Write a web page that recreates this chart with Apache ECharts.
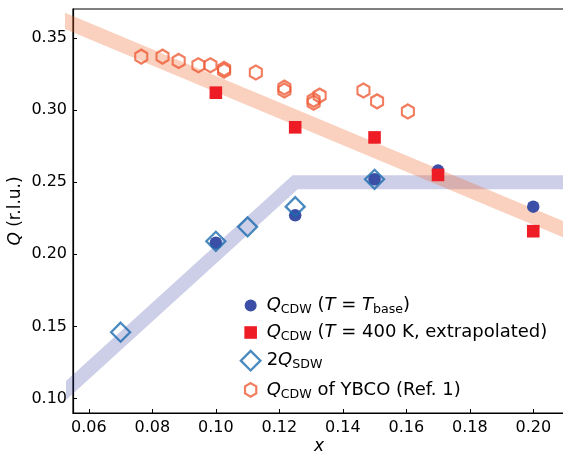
<!DOCTYPE html>
<html>
<head>
<meta charset="utf-8">
<script src="https://cdn.jsdelivr.net/npm/echarts@6/dist/echarts.min.js"></script>
<style>
  html, body { margin: 0; padding: 0; background: #fff; }
  #chart { width: 563px; height: 454px; }
</style>
</head>
<body>
<div id="chart"></div>
<script>
// Q_CDW at T = T_base (filled circles)
var baseX = [0.10, 0.125, 0.15, 0.17, 0.20];
var baseY = [0.208, 0.227, 0.252, 0.258, 0.233];
// Q_CDW at T = 400 K, extrapolated (filled squares)
var hotX = [0.10, 0.125, 0.15, 0.17, 0.20];
var hotY = [0.312, 0.288, 0.281, 0.255, 0.216];
// 2 Q_SDW (open diamonds)
var sdwX = [0.07, 0.10, 0.11, 0.125, 0.15];
var sdwY = [0.146, 0.209, 0.219, 0.233, 0.252];
// Q_CDW of YBCO, Ref. 1 (open hexagons)
var ybcoX = [0.0765, 0.0832, 0.0883, 0.0945, 0.0983, 0.1026, 0.1026, 0.1126, 0.1216, 0.1216, 0.1308, 0.1308, 0.1327, 0.1465, 0.1508, 0.1605];
var ybcoY = [0.337, 0.337, 0.334, 0.331, 0.331, 0.3285, 0.3272, 0.326, 0.3155, 0.3135, 0.307, 0.305, 0.310, 0.3135, 0.306, 0.299];
// guide bands
var blueBandX = [0.05, 0.125, 0.22];
var blueBandY = [0.10, 0.25, 0.25];
var orangeBandX = [0.05, 0.22];
var orangeBandY = [0.364, 0.2076];
// ticks
var xTicks = [0.06, 0.08, 0.10, 0.12, 0.14, 0.16, 0.18, 0.20];
var yTicks = [0.10, 0.15, 0.20, 0.25, 0.30, 0.35];

var FONT = 'DejaVu Sans';
var hexPath = 'path://M0,-1 L0.866,-0.5 L0.866,0.5 L0,1 L-0.866,0.5 L-0.866,-0.5 Z';

function pairs(xs, ys) {
  return xs.map(function (x, i) { return [x, ys[i]]; });
}
function nearTick(list, v) {
  return list.some(function (t) { return Math.abs(t - v) < 1e-6; });
}

// legend icons drawn in a 22x22 box (the two bare M points fix the box)
var iconCircle = 'path://M0,0 M22,22 M5,11 A6,6 0 1,0 17,11 A6,6 0 1,0 5,11 Z';
var iconSquare = 'path://M0,0 M22,22 M4.7,4.7 L17.3,4.7 L17.3,17.3 L4.7,17.3 Z';
var iconDiamond = 'path://M0,0 M22,22 M11,1.2 L20.8,11 L11,20.8 L1.2,11 Z';
var iconHex = 'path://M0,0 M22,22 M11,4.2 L16.6,7.5 L16.6,14.5 L11,17.8 L5.4,14.5 L5.4,7.5 Z';

var labels = {
  base: '{i|Q}{s|CDW} ({i|T} = {i|T}{s|base})',
  hot: '{i|Q}{s|CDW} ({i|T} = 400 K, extrapolated)',
  sdw: '2{i|Q}{s|SDW}',
  ybco: '{i|Q}{s|CDW} of YBCO (Ref. 1)'
};

var chart = echarts.init(document.getElementById('chart'));
var option = {
  animation: false,
  textStyle: { fontFamily: FONT },
  grid: {
    left: 73, top: 9, right: -2, bottom: 41,
    show: true, borderColor: '#000', borderWidth: 1.2,
    containLabel: false, outerBoundsMode: 'none'
  },
  legend: {
    orient: 'vertical',
    left: 238.5, top: 294.5, padding: 0,
    itemWidth: 22, itemHeight: 22, itemGap: 5,
    selectedMode: false,
    formatter: function (name) { return labels[name]; },
    textStyle: {
      fontFamily: FONT, fontSize: 18, color: '#000', lineHeight: 22,
      rich: {
        i: { fontFamily: FONT, fontSize: 18, fontStyle: 'italic', color: '#000', lineHeight: 22 },
        s: { fontFamily: FONT, fontSize: 12.6, color: '#000', lineHeight: 16, verticalAlign: 'bottom' }
      }
    },
    data: [
      { name: 'base', icon: iconCircle, itemStyle: { color: '#3a4fa5', borderWidth: 0 } },
      { name: 'hot', icon: iconSquare, itemStyle: { color: '#ee1d25', borderWidth: 0 } },
      { name: 'sdw', icon: iconDiamond, itemStyle: { color: 'rgba(0,0,0,0)', borderColor: '#1b6cae', borderWidth: 2.3 } },
      { name: 'ybco', icon: iconHex, itemStyle: { color: 'rgba(0,0,0,0)', borderColor: '#ef5b36', borderWidth: 2.2 } }
    ]
  },
  xAxis: {
    type: 'value',
    min: 0.055, max: 0.21, splitNumber: 8,
    name: 'x',
    nameLocation: 'middle', nameGap: 25, nameMoveOverlap: false,
    nameTextStyle: { fontFamily: FONT, fontSize: 17, fontStyle: 'italic', color: '#000' },
    axisLine: { lineStyle: { color: '#000', width: 1.2 } },
    axisTick: { inside: true, length: 4, lineStyle: { color: '#000', width: 1 } },
    splitLine: { show: false },
    axisLabel: {
      fontFamily: FONT, fontSize: 16, color: '#000', margin: 7,
      showMinLabel: false, showMaxLabel: false,
      formatter: function (v) { return nearTick(xTicks, v) ? v.toFixed(2) : ''; }
    }
  },
  yAxis: {
    type: 'value',
    min: 0.09, max: 0.37, splitNumber: 6,
    name: '{i|Q} (r.l.u.)',
    nameLocation: 'middle', nameGap: 49, nameMoveOverlap: false,
    nameTextStyle: {
      fontFamily: FONT, fontSize: 17, color: '#000',
      rich: { i: { fontFamily: FONT, fontSize: 17, fontStyle: 'italic', color: '#000' } }
    },
    axisLine: { lineStyle: { color: '#000', width: 1.2 } },
    axisTick: { inside: true, length: 4, lineStyle: { color: '#000', width: 1 } },
    splitLine: { show: false },
    axisLabel: {
      fontFamily: FONT, fontSize: 16, color: '#000', margin: 6,
      showMinLabel: false, showMaxLabel: false,
      formatter: function (v) { return nearTick(yTicks, v) ? v.toFixed(2) : ''; }
    }
  },
  series: [
    {
      name: 'blueBand', type: 'line', silent: true, symbol: 'none', z: 1,
      data: pairs(blueBandX, blueBandY),
      lineStyle: { color: 'rgba(47,55,160,0.24)', width: 14, join: 'miter', cap: 'butt' }
    },
    {
      name: 'orangeBand', type: 'line', silent: true, symbol: 'none', z: 1,
      data: pairs(orangeBandX, orangeBandY),
      lineStyle: { color: 'rgba(240,100,40,0.3)', width: 15, cap: 'butt' }
    },
    {
      name: 'base', type: 'scatter', z: 3,
      symbol: 'circle', symbolSize: 12.5,
      data: pairs(baseX, baseY),
      itemStyle: { color: '#3a4fa5', opacity: 1 }
    },
    {
      name: 'hot', type: 'scatter', z: 4,
      symbol: 'rect', symbolSize: 12.6,
      data: pairs(hotX, hotY),
      itemStyle: { color: '#ee1d25', opacity: 1 }
    },
    {
      name: 'sdw', type: 'scatter', z: 5,
      symbol: 'diamond', symbolSize: 19,
      data: pairs(sdwX, sdwY),
      itemStyle: { color: 'rgba(0,0,0,0)', borderColor: '#1b6cae', borderWidth: 2.3 }
    },
    {
      name: 'ybco', type: 'scatter', z: 6,
      symbol: hexPath, symbolSize: [12, 14],
      data: pairs(ybcoX, ybcoY),
      itemStyle: { color: 'rgba(0,0,0,0)', borderColor: '#ef5b36', borderWidth: 2.2 }
    }
  ]
};
chart.setOption(option);
</script>
</body>
</html>
